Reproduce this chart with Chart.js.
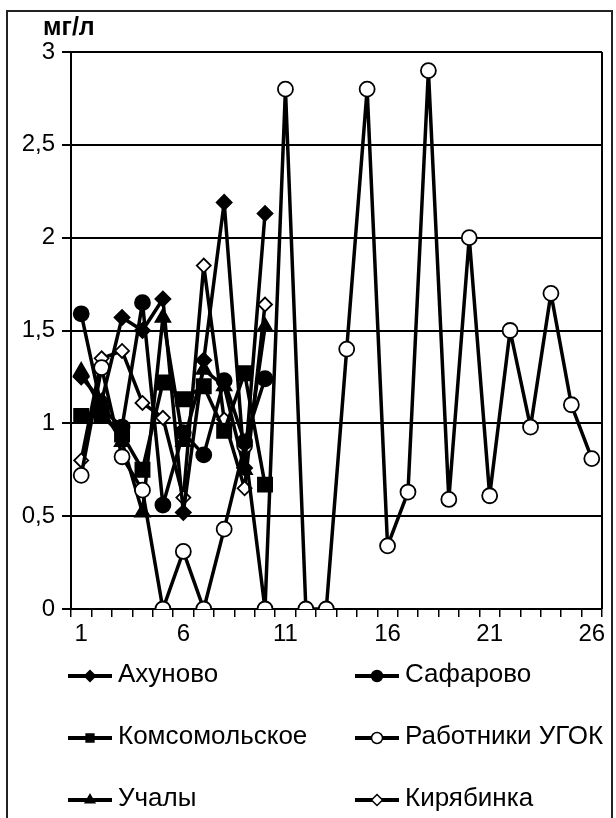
<!DOCTYPE html>
<html>
<head>
<meta charset="utf-8">
<script src="https://cdn.jsdelivr.net/npm/chart.js@4.4.1/dist/chart.umd.min.js"></script>
<style>
    html, body { margin: 0; padding: 0; background: #fff; }
    #wrap { width: 616px; height: 818px; }
</style>
</head>
<body>
<div id="wrap"><canvas id="nitrateChart"></canvas></div>
<script>
// x categories (sample numbers)
const categories = ['1', '2', '3', '4', '5', '6', '7', '8', '9', '10', '11', '12', '13',
    '14', '15', '16', '17', '18', '19', '20', '21', '22', '23', '24', '25', '26'];

// concentrations, mg/l
const akhunovo = [1.25, 1.12, 1.57, 1.5, 1.67, 0.52, 1.34, 2.19, 0.76, 2.13];
const safarovo = [1.59, 1.08, 0.98, 1.65, 0.56, 0.95, 0.83, 1.23, 0.9, 1.24];
const komsomolskoe = [1.04, 1.04, 0.94, 0.75, 1.22, 1.13, 1.2, 0.96, 1.27, 0.67];
const ugok = [0.72, 1.3, 0.82, 0.64, 0, 0.31, 0, 0.43, 0.88, 0, 2.8, 0, 0,
    1.4, 2.8, 0.34, 0.63, 2.9, 0.59, 2.0, 0.61, 1.5, 0.98, 1.7, 1.1, 0.81];
const uchaly = [1.28, 1.08, 0.9, 0.52, 1.57, 0.9, 1.29, 1.2, 0.75, 1.52];
const kiryabinka = [0.8, 1.35, 1.39, 1.11, 1.03, 0.6, 1.85, 1.02, 0.65, 1.64];

const seriesNames = ['Ахуново', 'Сафарово', 'Комсомольское', 'Работники УГОК', 'Учалы', 'Кирябинка'];
const yTicks = [0, 0.5, 1, 1.5, 2, 2.5, 3];
const yUnit = 'мг/л';

const FONT = '"Liberation Sans", Arial, sans-serif';

function series(label, data, style, radius, fill) {
    return {
        label: label,
        data: data,
        borderColor: '#000',
        borderWidth: 3.5,
        borderJoinStyle: 'round',
        tension: 0,
        pointStyle: style,
        pointRadius: radius,
        pointHoverRadius: radius,
        pointBackgroundColor: fill,
        pointBorderColor: '#000',
        pointBorderWidth: 1.8
    };
}

// frame, unit label, right border of plot and the two-column legend
const decorPlugin = {
    id: 'decor',
    afterDraw(chart) {
        const ctx = chart.ctx;
        const area = chart.chartArea;
        ctx.save();

        // outer frame
        ctx.strokeStyle = '#222';
        ctx.lineWidth = 2;
        ctx.beginPath();
        ctx.moveTo(7, 830);
        ctx.lineTo(7, 11);
        ctx.lineTo(612, 11);
        ctx.lineTo(612, 830);
        ctx.stroke();

        // right side of plot area
        ctx.lineWidth = 2;
        ctx.strokeStyle = '#000';
        ctx.beginPath();
        ctx.moveTo(area.right, area.top);
        ctx.lineTo(area.right, area.bottom);
        ctx.stroke();

        // unit
        ctx.fillStyle = '#000';
        ctx.font = 'bold 25px ' + FONT;
        ctx.textAlign = 'left';
        ctx.textBaseline = 'alphabetic';
        ctx.fillText(yUnit, 43, 35);

        // legend
        const cols = [area.left - 3, area.left + 284];
        const rows = [area.bottom + 67, area.bottom + 129, area.bottom + 191];
        chart.data.datasets.forEach((ds, i) => {
            const x0 = cols[i % 2];
            const y0 = rows[Math.floor(i / 2)];
            ctx.strokeStyle = '#000';
            ctx.lineWidth = 4;
            ctx.beginPath();
            ctx.moveTo(x0, y0);
            ctx.lineTo(x0 + 44, y0);
            ctx.stroke();
            ctx.fillStyle = ds.pointBackgroundColor;
            ctx.lineWidth = 1.5;
            Chart.helpers.drawPoint(ctx, {
                pointStyle: ds.pointStyle,
                radius: 5.5,
                rotation: 0,
                borderWidth: 1.5
            }, x0 + 22, y0);
            ctx.fillStyle = '#000';
            ctx.font = '26px ' + FONT;
            ctx.textBaseline = 'middle';
            ctx.fillText(ds.label, x0 + 50, y0 - 1);
        });
        ctx.restore();
    }
};

new Chart(document.getElementById('nitrateChart'), {
    type: 'line',
    data: {
        labels: categories,
        datasets: [
            series(seriesNames[0], akhunovo, 'rectRot', 7.5, '#000'),
            series(seriesNames[1], safarovo, 'circle', 7.5, '#000'),
            series(seriesNames[2], komsomolskoe, 'rect', 10, '#000'),
            series(seriesNames[3], ugok, 'circle', 7.5, '#fff'),
            series(seriesNames[4], uchaly, 'triangle', 8.5, '#000'),
            series(seriesNames[5], kiryabinka, 'rectRot', 7, '#fff')
        ]
    },
    options: {
        responsive: true,
        maintainAspectRatio: false,
        animation: false,
        layout: { padding: { top: 52, right: 14, left: 0, bottom: 0 } },
        plugins: {
            legend: { display: false },
            tooltip: { enabled: false }
        },
        scales: {
            x: {
                type: 'category',
                offset: true,
                grid: {
                    offset: true,
                    drawOnChartArea: false,
                    color: '#000',
                    tickLength: 8,
                    lineWidth: 1.5
                },
                border: { color: '#000', width: 2 },
                ticks: {
                    autoSkip: false,
                    maxRotation: 0,
                    padding: 3,
                    color: '#000',
                    font: { family: FONT, size: 24 },
                    callback: (v, i) => (i % 5 === 0 ? categories[i] : '')
                },
                afterFit: (scale) => { scale.height = 209; }
            },
            y: {
                min: yTicks[0],
                max: yTicks[yTicks.length - 1],
                grid: {
                    color: '#000',
                    lineWidth: 2,
                    tickLength: 9
                },
                border: { color: '#000', width: 2 },
                ticks: {
                    stepSize: 0.5,
                    padding: 7,
                    color: '#000',
                    font: { family: FONT, size: 24 },
                    callback: (v) => String(v).replace('.', ',')
                },
                afterFit: (scale) => { scale.width = 71; }
            }
        }
    },
    plugins: [decorPlugin]
});
</script>
</body>
</html>
